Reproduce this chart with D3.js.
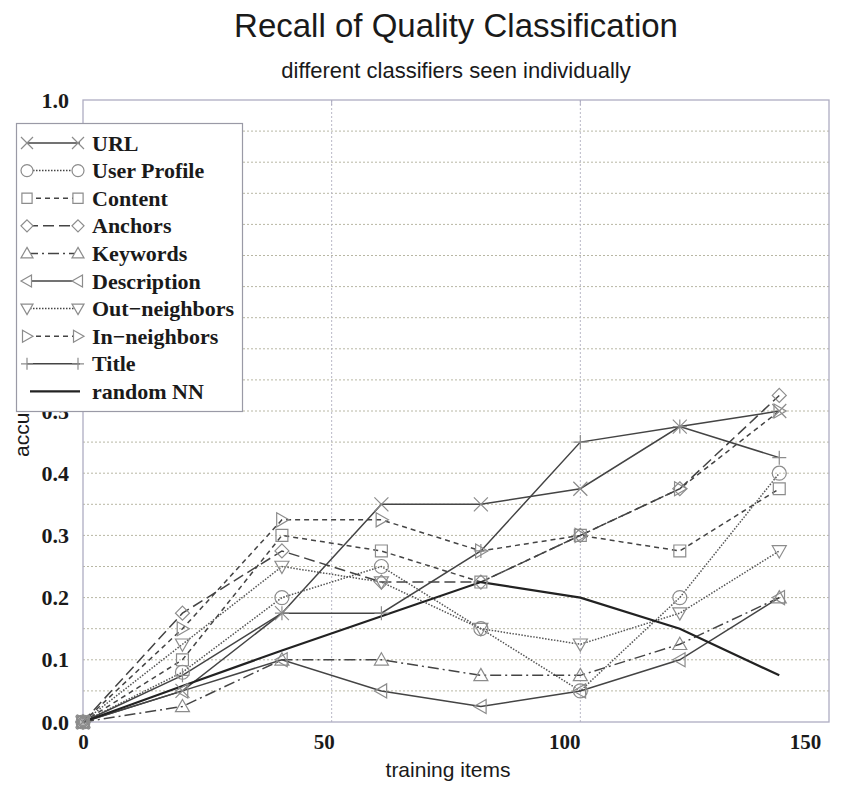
<!DOCTYPE html>
<html>
<head>
<meta charset="utf-8">
<script src="https://cdn.jsdelivr.net/npm/d3@7"></script>
<style>
  body { margin: 0; background: #fff; }
  svg { display: block; }
</style>
</head>
<body>
<svg id="chart"></svg>
<script>
// values
const trainingItems = [0, 20, 40, 60, 80, 100, 120, 140];
const url          = [0, 0.05, 0.175, 0.35, 0.35, 0.375, 0.475, 0.5];
const userProfile  = [0, 0.08, 0.2, 0.25, 0.15, 0.05, 0.2, 0.4];
const content      = [0, 0.1, 0.3, 0.275, 0.225, 0.3, 0.275, 0.375];
const anchors      = [0, 0.175, 0.275, 0.225, 0.225, 0.3, 0.375, 0.525];
const keywords     = [0, 0.025, 0.1, 0.1, 0.075, 0.075, 0.125, 0.2];
const description  = [0, 0.05, 0.1, 0.05, 0.025, 0.05, 0.1, 0.2];
const outNeighbors = [0, 0.125, 0.25, 0.225, 0.15, 0.125, 0.175, 0.275];
const inNeighbors  = [0, 0.15, 0.325, 0.325, 0.275, 0.3, 0.375, 0.5];
const titleSeries  = [0, 0.075, 0.175, 0.175, 0.275, 0.45, 0.475, 0.425];
const randomNN     = [0, 0.058, 0.115, 0.17, 0.225, 0.2, 0.15, 0.075];

const seriesNames = ["URL", "User Profile", "Content", "Anchors", "Keywords",
                     "Description", "Out\u2212neighbors", "In\u2212neighbors", "Title", "random NN"];
const seriesValues = [url, userProfile, content, anchors, keywords,
                      description, outNeighbors, inNeighbors, titleSeries, randomNN];
const seriesMarkers = ["x", "circle", "square", "diamond", "up", "left", "down", "right", "plus", null];
const seriesDash = ["", "1.5,1.5", "5,4", "11,5", "11,4,2,4", "", "1.5,1.5", "5,4", "", ""];

const xTicks = [0, 50, 100, 150];
const yTicks = d3.range(0, 1.01, 0.1);

const width = 850, height = 785;
const margin = {top: 100, right: 21, bottom: 63, left: 83};

const svg = d3.select("#chart").attr("width", width).attr("height", height);

const x = d3.scaleLinear().domain([0, 150]).range([margin.left, width - margin.right]);
const y = d3.scaleLinear().domain([0, 1]).range([height - margin.bottom, margin.top]);

const serif = "'Liberation Serif', 'DejaVu Serif', serif";
const sans = "'Liberation Sans', Arial, sans-serif";

// grid
const grid = svg.append("g").attr("class", "grid");
grid.selectAll("line.h")
    .data(d3.range(0.05, 1.0, 0.05))
    .enter().append("line")
    .attr("x1", x(0)).attr("x2", x(150))
    .attr("y1", d => y(d)).attr("y2", d => y(d))
    .attr("stroke", "#b8b7a4")
    .attr("stroke-width", 1)
    .attr("stroke-dasharray", "2,2");
grid.selectAll("line.v")
    .data([50, 100])
    .enter().append("line")
    .attr("x1", d => x(d)).attr("x2", d => x(d))
    .attr("y1", y(0)).attr("y2", y(1))
    .attr("stroke", "#b8b7c6")
    .attr("stroke-width", 1)
    .attr("stroke-dasharray", "2,2");

// frame
svg.append("rect")
    .attr("x", x(0)).attr("y", y(1))
    .attr("width", x(150) - x(0)).attr("height", y(0) - y(1))
    .attr("fill", "none")
    .attr("stroke", "#aeadc2")
    .attr("stroke-width", 1.3);

// axes
const yAxis = svg.append("g")
    .attr("transform", `translate(${x(0)},0)`)
    .call(d3.axisLeft(y).tickValues(yTicks).tickFormat(d3.format(".1f")).tickSize(0).tickPadding(14));
yAxis.select(".domain").remove();
yAxis.selectAll("text")
    .attr("font-family", serif).attr("font-weight", "bold")
    .attr("font-size", 22).attr("fill", "#1a1a1a");

const xAxis = svg.append("g")
    .attr("transform", `translate(0,${y(0)})`)
    .call(d3.axisBottom(x).tickValues(xTicks).tickFormat(d3.format("d")).tickSize(0).tickPadding(12));
xAxis.select(".domain").remove();
xAxis.selectAll("text")
    .attr("font-family", serif).attr("font-weight", "bold")
    .attr("font-size", 21).attr("fill", "#1a1a1a")
    .attr("dx", d => -d / 150 * 24);

// small ticks inside the frame
svg.append("g").selectAll("line")
    .data(xTicks.slice(1, 3))
    .enter().append("line")
    .attr("x1", d => x(d)).attr("x2", d => x(d))
    .attr("y1", y(1)).attr("y2", y(1) + 5)
    .attr("stroke", "#aeadc2");

// titles
svg.append("text")
    .attr("x", 456).attr("y", 37)
    .attr("text-anchor", "middle")
    .attr("font-family", sans).attr("font-size", 33).attr("fill", "#1a1a1a")
    .text("Recall of Quality Classification");
svg.append("text")
    .attr("x", 456).attr("y", 78)
    .attr("text-anchor", "middle")
    .attr("font-family", sans).attr("font-size", 22).attr("fill", "#1a1a1a")
    .text("different classifiers seen individually");
svg.append("text")
    .attr("x", 448).attr("y", 777)
    .attr("text-anchor", "middle")
    .attr("font-family", sans).attr("font-size", 21).attr("fill", "#1a1a1a")
    .text("training items");
svg.append("text")
    .attr("transform", "translate(29,415) rotate(-90)")
    .attr("text-anchor", "middle")
    .attr("font-family", sans).attr("font-size", 21).attr("fill", "#1a1a1a")
    .text("accuracy");

// marker shapes
const markerPath = (type, s) => {
    switch (type) {
        case "x": return `M${-s},${-s}L${s},${s}M${-s},${s}L${s},${-s}`;
        case "plus": return `M${-s},0L${s},0M0,${-s}L0,${s}`;
        case "circle": return `M${s},0A${s},${s} 0 1,1 ${-s},0A${s},${s} 0 1,1 ${s},0Z`;
        case "square": { const h = s * 0.85; return `M${-h},${-h}H${h}V${h}H${-h}Z`; }
        case "diamond": return `M0,${-s}L${s},0L0,${s}L${-s},0Z`;
        case "up": return `M0,${-s}L${s},${s * 0.75}L${-s},${s * 0.75}Z`;
        case "down": return `M0,${s}L${s},${-s * 0.75}L${-s},${-s * 0.75}Z`;
        case "left": return `M${-s},0L${s * 0.75},${-s}L${s * 0.75},${s}Z`;
        case "right": return `M${s},0L${-s * 0.75},${-s}L${-s * 0.75},${s}Z`;
    }
    return "";
};

const line = d3.line()
    .x((d, i) => x(trainingItems[i]))
    .y(d => y(d));

// lines
const plot = svg.append("g").attr("class", "series");
seriesValues.forEach((vals, k) => {
    const isNN = seriesNames[k] === "random NN";
    plot.append("path")
        .datum(vals)
        .attr("d", line)
        .attr("fill", "none")
        .attr("stroke", isNN ? "#222" : (seriesDash[k] === "1.5,1.5" ? "#555" : "#444"))
        .attr("stroke-width", isNN ? 2.2 : 1.5)
        .attr("stroke-dasharray", seriesDash[k] || null);
});

// markers
seriesValues.forEach((vals, k) => {
    if (!seriesMarkers[k]) return;
    plot.append("g").selectAll("path")
        .data(vals)
        .enter().append("path")
        .attr("transform", (d, i) => `translate(${x(trainingItems[i])},${y(d)})`)
        .attr("d", markerPath(seriesMarkers[k], 7))
        .attr("fill", "none")
        .attr("stroke", "#8c8c8c")
        .attr("stroke-width", 1.2);
});

// legend
const legend = svg.append("g").attr("class", "legend");
legend.append("rect")
    .attr("x", 16.5).attr("y", 123.5)
    .attr("width", 226).attr("height", 288)
    .attr("fill", "#fff")
    .attr("stroke", "#9a9aa6")
    .attr("stroke-width", 1.2);

const rowY = i => 143 + i * 27.6;
seriesNames.forEach((name, k) => {
    const g = legend.append("g").attr("transform", `translate(0,${rowY(k)})`);
    const isNN = name === "random NN";
    g.append("line")
        .attr("x1", isNN ? 30 : 27).attr("x2", 80)
        .attr("stroke", isNN ? "#222" : "#444")
        .attr("stroke-width", isNN ? 2.2 : 1.5)
        .attr("stroke-dasharray", seriesDash[k] || null);
    if (seriesMarkers[k]) {
        [27, 78].forEach(px => {
            g.append("path")
                .attr("transform", `translate(${px},0)`)
                .attr("d", markerPath(seriesMarkers[k], 6))
                .attr("fill", "#fff")
                .attr("stroke", "#8c8c8c")
                .attr("stroke-width", 1.2);
        });
    }
    g.append("text")
        .attr("x", 92).attr("y", 7.5)
        .attr("font-family", serif).attr("font-weight", "bold")
        .attr("font-size", 22).attr("fill", "#1a1a1a")
        .text(name);
});
</script>
</body>
</html>
